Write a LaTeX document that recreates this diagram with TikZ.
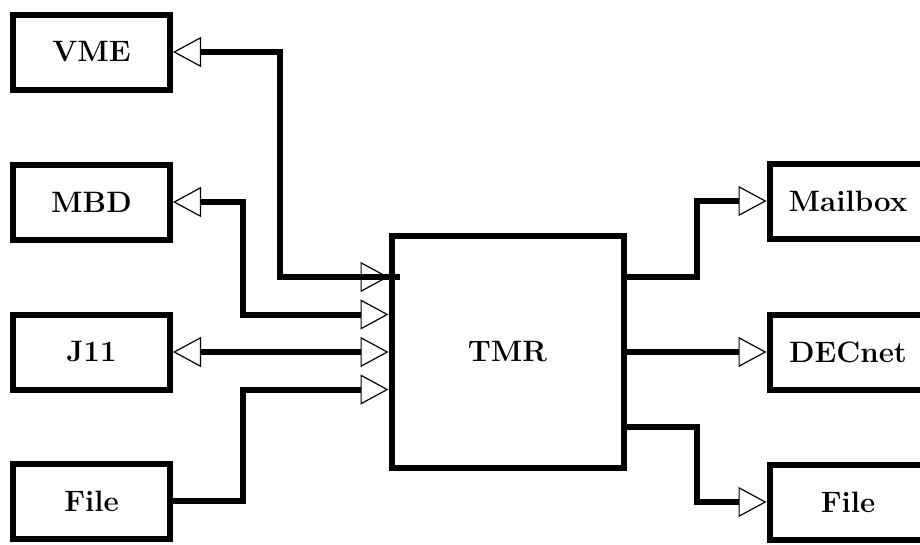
\documentclass[tikz,border=0pt]{standalone}
\usepackage{fontspec}
\usetikzlibrary{arrows.meta}

\begin{document}
\begin{tikzpicture}[x=1pt, y=-1pt,
  unit/.style={draw, line width=6pt, minimum width=157pt, minimum height=75pt, inner sep=0pt,
    font=\fontsize{29.5}{35}\selectfont\bfseries},
  core/.style={unit, minimum width=232pt, minimum height=232pt},
  link/.style={line width=6pt},
  hollow/.tip={Triangle[open, length=28pt, width=30pt, line width=1.2pt]}]

\useasboundingbox (0,0) rectangle (920,544);
\clip (0,0) rectangle (920,544);

\node[unit] (vme)    at (91.5,52)  {VME};
\node[unit] (mbd)    at (91.5,202) {MBD};
\node[unit] (j11)    at (91.5,352) {J11};
\node[unit] (filein) at (91.5,501) {File};
\node[core] (tmr)    at (507.5,352) {TMR};
\node[unit] (mailbox) at (848,201) {Mailbox};
\node[unit] (decnet)  at (848,352) {DECnet};
\node[unit] (fileout) at (848,502) {File};

\coordinate (inA)  at ([yshift=75pt]tmr.west);
\coordinate (inB)  at ([yshift=37.5pt]tmr.west);
\coordinate (inD)  at ([yshift=-37.5pt]tmr.west);
\coordinate (outA) at ([yshift=75pt]tmr.east);
\coordinate (outC) at ([yshift=-75pt]tmr.east);
\coordinate (jogv) at (280,0);
\coordinate (jogl) at (243,0);
\coordinate (jogr) at (697,0);

\draw[link, hollow-hollow] (vme.east) -| (jogv |- inA) -- (inA);
\draw[link] ([xshift=-28pt]inA) -- ([xshift=11pt]inA);
\draw[link, hollow-hollow] (mbd.east) -| (jogl |- inB) -- (inB);
\draw[link, hollow-hollow] (j11.east) -- (tmr.west);
\draw[link, -hollow] (filein.east) -| (jogl |- inD) -- (inD);

\draw[link, -hollow] (outA) -| (jogr |- mailbox.west) -- (mailbox.west);
\draw[link, -hollow] (tmr.east) -- (decnet.west);
\draw[link, -hollow] (outC) -| (jogr |- fileout.west) -- (fileout.west);
\end{tikzpicture}
\end{document}
